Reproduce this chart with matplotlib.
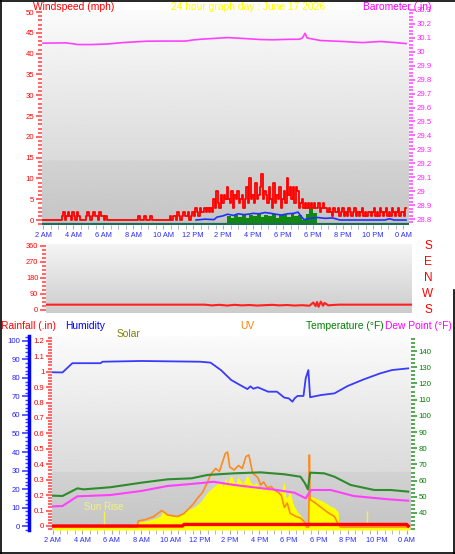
import numpy as np
import matplotlib
matplotlib.use("Agg")
import matplotlib.pyplot as plt
from matplotlib.ticker import MultipleLocator, FuncFormatter
from matplotlib.lines import Line2D

plt.rcParams['font.family'] = ['Liberation Sans', 'DejaVu Sans']

W, H = 455, 554

# eixo x (horas desde o inicio do grafico)
x_ticks = list(range(0, 25, 2))
x_labels = ["2 AM", "4 AM", "6 AM", "8 AM", "10 AM", "12 PM", "2 PM",
            "4 PM", "6 PM", "6 PM", "8 PM", "10 PM", "0 AM"]

# rajadas de vento (mph), uma amostra a cada 6 minutos
gust = [0, 0, 0, 0, 0, 0, 0, 0, 0, 0,
        0, 0, 0, 1, 2, 0, 1, 2, 1, 0,
        2, 1, 0, 2, 1, 0, 0, 0, 0, 1,
        2, 1, 0, 1, 2, 1, 1, 0, 2, 1,
        1, 0, 1, 0, 0, 0, 0, 0, 0, 0,
        0, 0, 0, 0, 0, 0, 0, 0, 0, 0,
        0, 0, 0, 0, 1, 0, 0, 0, 1, 0,
        0, 0, 1, 0, 0, 0, 0, 0, 0, 0,
        0, 0, 0, 0, 0, 1, 0, 1, 1, 0,
        2, 1, 0, 1, 2, 1, 1, 2, 0, 1,
        2, 1, 3, 2, 1, 3, 2, 2, 3, 2,
        3, 2, 3, 2, 5, 3, 7, 4, 3, 6,
        4, 6, 5, 8, 5, 4, 7, 3, 6, 5,
        7, 4, 5, 6, 3, 5, 8, 4, 10, 5,
        6, 4, 9, 5, 6, 8, 11, 5, 7, 6,
        4, 8, 5, 3, 9, 4, 6, 5, 8, 3,
        5, 7, 4, 10, 6, 8, 5, 8, 4, 8,
        7, 3, 4, 5, 3, 4, 3, 4, 3, 4,
        3, 4, 3, 3, 4, 2, 3, 4, 3, 3,
        2, 3, 2, 1, 3, 2, 2, 3, 1, 2,
        3, 1, 2, 1, 3, 2, 1, 2, 3, 1,
        2, 1, 2, 3, 1, 2, 1, 2, 2, 1,
        2, 3, 1, 2, 1, 3, 2, 1, 2, 3,
        1, 2, 1, 3, 2, 1, 2, 3, 1, 2,
        2, 1, 3]
gust_t = np.arange(len(gust)) * 0.1

# vento medio (mph)
avg_t = [10.2, 10.8, 11.4, 11.6, 12.0, 12.3, 12.7, 13.0, 13.4, 13.7, 14.0, 14.4, 14.8,
         15.2, 15.5, 15.9, 16.3, 16.7, 17.0, 17.2, 17.4, 17.8, 18.3, 18.8, 19.3, 19.8,
         22.8, 23.1, 23.4, 24.2]
avg_v = [0, 0.2, 0.1, 0.7, 1.0, 1.4, 1.1, 1.5, 1.3, 1.4, 1.6, 1.5, 1.8,
         1.6, 1.4, 1.2, 1.5, 1.6, 1.9, 0.9, 0.1, 0.4, 0.6, 0.4, 0.5, 0,
         0, 0.3, 0, 0]

# barras verdes (mph)
green_t = [12.25, 12.5, 12.75, 13.0, 13.25, 13.5, 13.75, 14.0, 14.25, 14.5, 14.75, 15.0,
           15.25, 15.5, 15.75, 16.0, 16.25, 16.5, 16.75, 17.0, 17.25, 17.5, 17.75, 18.0, 18.25]
green_v = [1.0, 0.5, 1.2, 0.8, 1.4, 0.6, 1.3, 1.0, 1.5, 0.7, 1.2, 0.9,
           1.4, 0.6, 1.1, 1.3, 0.8, 1.5, 1.0, 1.2, 0.0, 1.5, 2.6, 1.8, 0.0]

# barometro (in)
baro_t = [0, 1.5, 2.0, 2.3, 3.2, 4.3, 5.3, 6.9, 8.0, 9.5, 10.0, 10.5, 12.3, 13.0, 14.5,
          15.3, 16.5, 17.1, 17.3, 17.47, 17.6, 17.8, 18.5, 20.0, 21.3, 22.5, 23.5, 24.2]
baro = [30.062, 30.064, 30.058, 30.052, 30.052, 30.056, 30.066, 30.076, 30.077, 30.077,
        30.085, 30.09, 30.102, 30.098, 30.088, 30.086, 30.09, 30.09, 30.1, 30.133, 30.1,
        30.095, 30.081, 30.074, 30.066, 30.074, 30.066, 30.059]

# direcao do vento (graus)
dir_t = [0, 10.5, 11, 11.5, 12, 12.5, 13, 13.5, 14, 14.5, 15, 15.5, 16, 16.5, 17, 17.5,
         17.75, 17.9, 18.0, 18.1, 18.25, 18.4, 18.5, 18.75, 19, 19.5, 24.3]
dir_v = [30, 30, 26, 29, 25, 29, 26, 28, 25, 27, 29, 26, 28, 25, 27, 24,
         42, 22, 45, 18, 47, 24, 40, 26, 28, 30, 30]

# umidade (%)
hum_t = [0, 0.66, 1.33, 3.25, 3.37, 6.0, 10.0, 10.7, 11.4, 12.1, 12.7, 13.2, 13.4, 13.6,
         13.9, 14.6, 15.2, 15.7, 16.0, 16.25, 16.4, 16.6, 17.0, 17.15, 17.33, 17.45, 18.2,
         19.1, 20.0, 21.1, 22.2, 23.0, 24.1]
hum = [83.1, 83, 88, 88, 88.8, 89.2, 88.8, 88.3, 84.3, 78.9, 76.2, 74, 75.5, 74.2,
       75, 72.6, 72.6, 69.4, 69.0, 67.2, 69, 70.3, 70.3, 79.8, 84.3, 69.6, 70.8,
       71.7, 75.7, 79.3, 82.5, 84.3, 85.2]

# temperatura e ponto de orvalho (F)
temp_t = [0, 0.66, 1.67, 2.1, 3.9, 6.0, 7.8, 9.4, 10.5, 12.3, 14.1, 15.7, 16.8, 17.1,
          17.3, 17.45, 18.4, 19.1, 20.2, 21.8, 22.9, 24.1]
temp = [50.7, 50.5, 55.2, 54.6, 55.9, 58.7, 60.8, 61.4, 63.5, 64.5, 65.1, 63.9, 62.4,
        58.3, 54.6, 64.9, 64.5, 62.4, 57.3, 54.2, 54.2, 53.2]
dew_t = [0, 0.66, 1.67, 3.9, 6.0, 7.8, 9.1, 10.3, 10.9, 12.3, 13.6, 15.2, 16.4, 17.15,
         17.5, 18.85, 20.4, 22.7, 24.1]
dew = [44.1, 44.3, 50.3, 51.1, 53.6, 56.7, 57.7, 58.7, 59.3, 57.3, 55.9, 54.2, 52.5,
       49.1, 54.2, 54.2, 50.5, 48.5, 47.6]

# radiacao solar (W/m2)
solar_t = [0, 4.5, 4.6, 5.0, 5.5, 5.8, 6.3, 6.8, 7.3, 7.5, 7.7, 8.0, 8.5, 8.7, 9.0, 9.3,
           9.6, 10.0, 10.25, 10.5, 10.75, 10.9, 11.15, 11.4, 11.55, 11.7, 11.85, 12.1,
           12.25, 12.4, 12.55, 12.7, 12.9, 13.05, 13.2, 13.4, 13.6, 13.8, 14.0, 14.3,
           14.5, 14.75, 15.0, 15.2, 15.3, 15.5, 15.7, 15.8, 15.9, 16.1, 16.25, 16.4,
           16.6, 16.8, 17.0, 17.1, 17.3, 17.4, 17.6, 17.8, 18.1, 18.4, 18.8, 19.1,
           19.35, 19.4, 19.5, 24.2]
solar = [0, 0, 5, 10, 15, 25, 30, 40, 55, 85, 60, 55, 55, 60, 85, 90,
         100, 125, 150, 175, 190, 200, 215, 225, 200, 245, 220, 260,
         230, 210, 250, 235, 215, 240, 260, 225, 210, 220, 200, 200,
         190, 195, 185, 175, 170, 180, 225, 150, 145, 185, 125, 100,
         75, 60, 35, 25, 0, 160, 150, 145, 135, 125, 105, 95,
         75, 10, 5, 5]
sun_marks = [3.5, 21.3]

# indice UV
uv_t = [0, 5.7, 5.8, 6.3, 6.85, 7.4, 7.8, 8.45, 8.9, 9.5, 9.8, 10.15, 10.5, 10.7, 11.05,
        11.3, 11.5, 11.7, 11.85, 12.0, 12.3, 12.6, 12.85, 13.1, 13.3, 13.55, 13.9, 14.1,
        14.3, 14.55, 14.8, 15.0, 15.3, 15.5, 15.7, 15.9, 16.1, 16.3, 16.5, 16.8, 17.1,
        17.2, 17.35, 17.4, 17.45, 17.5, 17.8, 18.2, 18.6, 19.1, 19.4, 19.5, 24.1]
uv = [0, 0, 0.4, 0.5, 0.7, 1.1, 0.8, 0.7, 0.9, 1.5, 1.9, 2.3, 3.0, 3.5, 3.9,
      3.7, 4.3, 4.9, 5.0, 4.0, 3.8, 4.1, 3.9, 4.7, 4.8, 3.6, 3.3, 2.8,
      3.0, 2.6, 2.7, 2.5, 2.3, 2.1, 1.3, 1.6, 0.9, 0.8, 0.7, 0.6, 0.3,
      0, 0, 4.8, 1.8, 1.8, 1.6, 1.3, 1.0, 0.7, 0.1, 0, 0]

# chuva (in)
rain_t = [0, 8.8, 8.9, 24.0, 24.1]
rain = [0, 0, 0.01, 0.01, 0]


fig = plt.figure(figsize=(W / 100, H / 100), dpi=100)
fig.patch.set_facecolor('white')


def px_axes(x0, y0, x1, y1):
    return fig.add_axes([x0 / W, 1 - y1 / H, (x1 - x0) / W, (y1 - y0) / H])


def fundo(ax, top, bottom, step_at=None, step=0.0):
    g = np.linspace(top, bottom, 300)
    if step_at is not None:
        g[int(step_at * 300):] -= step
    ax.imshow(g.reshape(-1, 1), extent=[0, 1, 0, 1], transform=ax.transAxes,
              aspect='auto', cmap='gray', vmin=0, vmax=1, zorder=0)


def sem_bordas(ax):
    for s in ax.spines.values():
        s.set_visible(False)


def eixo_y(ax, cor, cor_menor, major, minor, size=5.6):
    ax.yaxis.set_major_locator(MultipleLocator(major))
    ax.yaxis.set_minor_locator(MultipleLocator(minor))
    ax.yaxis.set_major_formatter(FuncFormatter(lambda v, p: f'{v:g}'))
    ax.tick_params(axis='y', which='major', color=cor_menor, labelcolor=cor,
                   labelsize=size, length=4, width=1.5, pad=1.5)
    ax.tick_params(axis='y', which='minor', color=cor_menor, length=3, width=1.5)


def eixo_x(ax):
    ax.set_xticks(x_ticks)
    ax.set_xticklabels(x_labels)
    ax.xaxis.set_minor_locator(MultipleLocator(0.5))
    ax.tick_params(axis='x', which='both', color='#a8a8a8', labelcolor='#2a2aff',
                   labelsize=5.3, length=3, pad=2)


# ---------- vento e barometro ----------
ax_w = px_axes(42, 10, 409, 225)
fundo(ax_w, 0.985, 0.80, step_at=0.70, step=0.03)
ax_w.plot(gust_t, gust, color='#ff0000', lw=1.3, drawstyle='steps-mid', zorder=3)
ax_w.fill_between(green_t, -0.9, green_v, step='post', color='#118811', lw=0, zorder=4)
ax_w.plot(avg_t, avg_v, color='#2030ff', lw=1.2, zorder=5)
ax_w.axhline(-0.95, color='#206a5a', lw=1.6, zorder=6)
ax_w.set_xlim(-0.07, 24.4)
ax_w.set_ylim(-1.2, 50.5)
eixo_y(ax_w, '#ff0000', '#ff6a6a', 5, 1)
eixo_x(ax_w)
sem_bordas(ax_w)

ax_b = ax_w.twinx()
ax_b.plot(baro_t, baro, color='#ff40ff', lw=1.2)
ax_b.set_ylim(28.757, 30.3)
eixo_y(ax_b, '#ff20ff', '#ff70ff', 0.1, 0.025)
sem_bordas(ax_b)

fs_head = 7.4
fig.text(33 / W, 1 - 7 / H, "Windspeed (mph)", color='#ff0000', fontsize=fs_head, va='center')
fig.text(248 / W, 1 - 7 / H, "24 hour graph day : June 17 2026", color='#ffff00',
         fontsize=fs_head, ha='center', va='center')
fig.text(363 / W, 1 - 7 / H, "Barometer (.in)", color='#ff00ff', fontsize=fs_head, va='center')

# ---------- direcao do vento ----------
ax_d = px_axes(46, 244, 412, 313)
fundo(ax_d, 0.96, 0.80)
ax_d.plot(dir_t, dir_v, color='#ff2020', lw=1.5, zorder=3)
ax_d.set_xlim(-0.07, 24.33)
ax_d.set_ylim(-16.9, 371)
ax_d.set_yticks([0, 90, 180, 270, 360])
ax_d.yaxis.set_minor_locator(MultipleLocator(22.5))
ax_d.tick_params(axis='y', which='major', color='#ff6a6a', labelcolor='#ff0000',
                 labelsize=5.3, length=4, width=1.5, pad=1.5)
ax_d.tick_params(axis='y', which='minor', color='#ff6a6a', length=3, width=1.5)
ax_d.set_xticks([])
sem_bordas(ax_d)

for letra, yy in zip(["S", "E", "N", "W", "S"], [246, 262, 278, 294, 310]):
    fig.text(428 / W, 1 - yy / H, letra, color='#ff0000', fontsize=8.5,
             ha='center', va='center')

# ---------- chuva, umidade, solar, UV, temperatura ----------
ax_r = px_axes(52, 336, 411, 530)
fundo(ax_r, 0.985, 0.80, step_at=0.70, step=0.03)
ax_r.set_xlim(-0.05, 24.29)
ax_r.set_ylim(-0.026, 1.231)
eixo_y(ax_r, '#ff0000', '#ff6a6a', 0.1, 0.02)
eixo_x(ax_r)
sem_bordas(ax_r)

ax_s = ax_r.twinx()
ax_s.fill_between(solar_t, -15, solar, color='#ffff00', lw=0)
ax_s.vlines(sun_marks, 0, 80, color='#f2f250', lw=1)
ax_s.set_ylim(-15, 955)
ax_s.set_axis_off()
fig.text(84 / W, 1 - 507 / H, "Sun Rise", color='#f4f47a', fontsize=7, va='center')

ax_u = ax_r.twinx()
ax_u.plot(uv_t, uv, color='#ff8a1c', lw=1.2)
ax_u.set_ylim(-0.2, 12.73)
ax_u.set_axis_off()

ax_t = ax_r.twinx()
ax_t.plot(temp_t, temp, color='#2e8b2e', lw=1.5)
ax_t.plot(dew_t, dew, color='#ff40ff', lw=1.5)
ax_t.set_ylim(29.5, 149.3)
ax_t.set_yticks(list(range(40, 150, 10)))
ax_t.yaxis.set_minor_locator(MultipleLocator(2.5))
ax_t.tick_params(axis='y', which='major', color='#5aaa5a', labelcolor='#008000',
                 labelsize=5.6, length=4, width=1.5, pad=1.5)
ax_t.tick_params(axis='y', which='minor', color='#5aaa5a', length=3, width=1.5)
sem_bordas(ax_t)

ax_h = ax_r.twinx()
ax_h.plot(hum_t, hum, color='#3a3aff', lw=1.3)
ax_h.set_ylim(-2.16, 102.7)
ax_h.yaxis.tick_left()
sem_bordas(ax_h)
ax_h.spines['left'].set_visible(True)
ax_h.spines['left'].set_position(('outward', 16.5))
ax_h.spines['left'].set_color('#0000ff')
ax_h.spines['left'].set_linewidth(2.5)
ax_h.set_yticks(list(range(0, 101, 10)))
ax_h.yaxis.set_minor_locator(MultipleLocator(2))
ax_h.tick_params(axis='y', which='major', color='#4040ff', labelcolor='#2020ff',
                 labelsize=5.6, length=5, width=1.2, pad=1.5)
ax_h.tick_params(axis='y', which='minor', color='#4040ff', length=3, width=1)

ax_rl = ax_r.twinx()
ax_rl.plot(rain_t, rain, color='#ff0000', lw=2.4)
ax_rl.set_ylim(-0.026, 1.231)
ax_rl.set_axis_off()

fig.text(1 / W, 1 - 326 / H, "Rainfall (.in)", color='#ff0000', fontsize=fs_head, va='center')
fig.text(65 / W, 1 - 326 / H, "Humidity", color='#0000ff', fontsize=fs_head, va='center')
fig.text(117 / W, 1 - 334 / H, "Solar", color='#808000', fontsize=fs_head, va='center')
fig.text(240 / W, 1 - 326 / H, "UV", color='#ff8000', fontsize=fs_head, va='center')
fig.text(306 / W, 1 - 326 / H, "Temperature (\u00b0F)", color='#008000', fontsize=fs_head,
         va='center')
fig.text(385 / W, 1 - 326 / H, "Dew Point (\u00b0F)", color='#ff00ff', fontsize=fs_head,
         va='center')

# moldura preta
for xs, ys in [([0.5, 0.5], [0, H]), ([0, W], [0.5, 0.5]), ([0, W], [552.5, 552.5]),
               ([454, 454], [290, H])]:
    fig.add_artist(Line2D([x / W for x in xs], [1 - y / H for y in ys],
                          color='black', lw=1.2, transform=fig.transFigure))

fig.savefig('out.png', dpi=100)
